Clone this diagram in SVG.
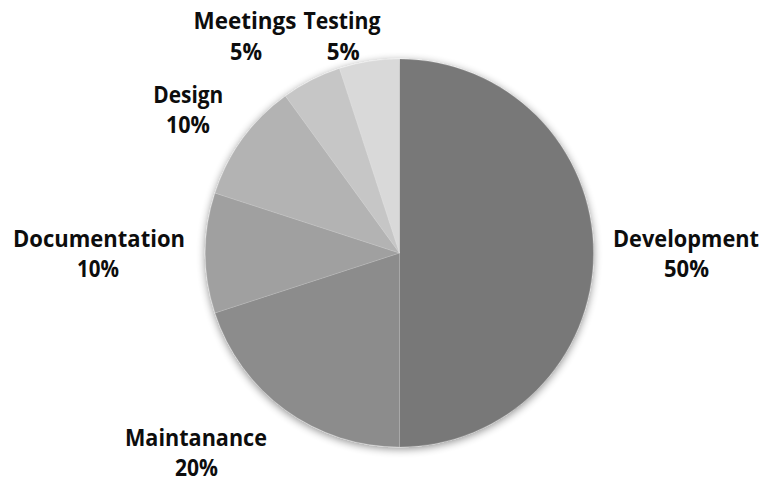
<svg xmlns="http://www.w3.org/2000/svg" width="764" height="481" viewBox="0 0 764 481">
  <style>
    .lbl { font-family: "Open Sans", "Liberation Sans", sans-serif; font-weight: bold; font-size: 23px; fill: #0d0d0d; text-anchor: middle; }
    .slice { stroke: #ffffff; stroke-opacity: 0.25; stroke-width: 0.6; }
  </style>
  <defs>
    <filter id="shadow" x="-20%" y="-20%" width="140%" height="140%">
      <feGaussianBlur in="SourceAlpha" stdDeviation="4"/>
      <feOffset dx="0" dy="2" result="b"/>
      <feComponentTransfer><feFuncA type="linear" slope="0.45"/></feComponentTransfer>
      <feMerge><feMergeNode/><feMergeNode in="SourceGraphic"/></feMerge>
    </filter>
  </defs>
  <rect width="764" height="481" fill="#ffffff"/>
  <g id="pie" filter="url(#shadow)">
    <g id="development"><path class="slice" fill="#787878" d="M399.5,253 L399.5,59 A194,194 0 0 1 399.5,447 Z"/></g>
    <g id="maintanance"><path class="slice" fill="#8c8c8c" d="M399.5,253 L399.5,447 A194,194 0 0 1 215,312.95 Z"/></g>
    <g id="documentation"><path class="slice" fill="#a0a0a0" d="M399.5,253 L215,312.95 A194,194 0 0 1 215,193.05 Z"/></g>
    <g id="design"><path class="slice" fill="#b3b3b3" d="M399.5,253 L215,193.05 A194,194 0 0 1 285.47,96.05 Z"/></g>
    <g id="meetings"><path class="slice" fill="#c6c6c6" d="M399.5,253 L285.47,96.05 A194,194 0 0 1 339.55,68.5 Z"/></g>
    <g id="testing"><path class="slice" fill="#d9d9d9" d="M399.5,253 L339.55,68.5 A194,194 0 0 1 399.5,59 Z"/></g>
  </g>
  <g id="labels">
    <g id="label-development">
      <text class="lbl" x="686" y="246.7" font-size="21" textLength="146" lengthAdjust="spacingAndGlyphs">Development</text>
      <text class="lbl" x="686.5" y="277.3" textLength="45" lengthAdjust="spacingAndGlyphs">50%</text>
    </g>
    <g id="label-maintanance">
      <text class="lbl" x="196" y="446" textLength="142" lengthAdjust="spacingAndGlyphs">Maintanance</text>
      <text class="lbl" x="196.5" y="475.5" textLength="43" lengthAdjust="spacingAndGlyphs">20%</text>
    </g>
    <g id="label-documentation">
      <text class="lbl" x="99" y="246.7" textLength="172" lengthAdjust="spacingAndGlyphs">Documentation</text>
      <text class="lbl" x="98" y="277.3" textLength="42" lengthAdjust="spacingAndGlyphs">10%</text>
    </g>
    <g id="label-design">
      <text class="lbl" x="188.3" y="102.7" textLength="70" lengthAdjust="spacingAndGlyphs">Design</text>
      <text class="lbl" x="188" y="133.3" textLength="44" lengthAdjust="spacingAndGlyphs">10%</text>
    </g>
    <g id="label-meetings">
      <text class="lbl" x="245" y="29" textLength="103" lengthAdjust="spacingAndGlyphs">Meetings</text>
      <text class="lbl" x="246" y="60" textLength="32" lengthAdjust="spacingAndGlyphs">5%</text>
    </g>
    <g id="label-testing">
      <text class="lbl" x="342" y="29" textLength="77" lengthAdjust="spacingAndGlyphs">Testing</text>
      <text class="lbl" x="343.3" y="60" textLength="33" lengthAdjust="spacingAndGlyphs">5%</text>
    </g>
  </g>
</svg>
